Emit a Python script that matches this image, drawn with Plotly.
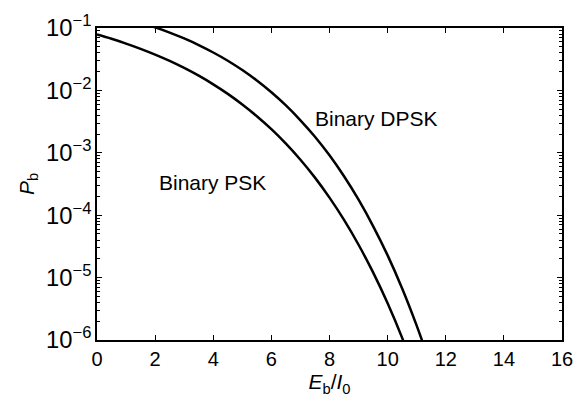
import plotly.graph_objects as go

# Bit error probability vs Eb/I0 (dB)
ebio_psk = [0, 0.5, 1, 1.5, 2, 2.5, 3, 3.5, 4, 4.5, 5, 5.5, 6, 6.5, 7, 7.5,
            8, 8.5, 9, 9.5, 10, 10.5, 11]
pb_psk = [0.0786, 0.0671, 0.0563, 0.0464, 0.0375, 0.0297, 0.0229, 0.0172,
          0.0125, 0.0088, 0.00595, 0.00386, 0.00239, 0.0014, 7.73e-4, 4.0e-4,
          1.91e-4, 8.4e-5, 3.36e-5, 1.21e-5, 3.87e-6, 1.08e-6, 2.6e-7]

ebio_dpsk = [1.5, 2, 2.5, 3, 3.5, 4, 4.5, 5, 5.5, 6, 6.5, 7, 7.5, 8, 8.5,
             9, 9.5, 10, 10.5, 11, 11.5]
pb_dpsk = [0.1217, 0.1025, 0.0845, 0.068, 0.0533, 0.0405, 0.0299, 0.0212,
           0.0144, 0.00933, 0.00574, 0.00332, 0.00181, 9.1e-4, 4.2e-4,
           1.77e-4, 6.7e-5, 2.27e-5, 6.7e-6, 1.7e-6, 3.7e-7]

x_ticks = [0, 2, 4, 6, 8, 10, 12, 14, 16]
y_exp_range = [-6, -1]   # decades shown on the log axis

FONT = "Liberation Sans, Arial, Helvetica, sans-serif"

fig = go.Figure()
fig.add_trace(go.Scatter(x=ebio_psk, y=pb_psk, mode="lines",
                         line=dict(color="black", width=2.5, shape="spline"),
                         name="Binary PSK", showlegend=False))
fig.add_trace(go.Scatter(x=ebio_dpsk, y=pb_dpsk, mode="lines",
                         line=dict(color="black", width=2.5, shape="spline"),
                         name="Binary DPSK", showlegend=False))

fig.add_annotation(x=3.97, y=-3.48, xref="x", yref="y", text="Binary PSK",
                   showarrow=False, font=dict(size=21, color="black", family=FONT))
fig.add_annotation(x=9.61, y=-2.45, xref="x", yref="y", text="Binary DPSK",
                   showarrow=False, font=dict(size=21, color="black", family=FONT))

fig.update_xaxes(range=[0, 16], tickvals=x_ticks, ticks="inside", ticklen=5,
                 tickwidth=1, tickcolor="black", showline=True, linecolor="black",
                 linewidth=1.5, mirror="ticks", showgrid=False, zeroline=False,
                 tickfont=dict(size=20, color="black", family=FONT),
                 title=dict(text="<i>E</i><sub>b</sub>/<i>I</i><sub>0</sub>",
                            font=dict(size=21, color="black", family=FONT),
                            standoff=6))
fig.update_yaxes(type="log", range=y_exp_range, tickmode="linear", tick0=0, dtick=1,
                 exponentformat="power", showexponent="all",
                 ticks="inside", ticklen=5, tickwidth=1, tickcolor="black",
                 minor=dict(dtick="D1", ticks="inside",
                            ticklen=3, tickwidth=1, tickcolor="black", showgrid=False),
                 showline=True, linecolor="black", linewidth=1.5, mirror="ticks",
                 showgrid=False, zeroline=False,
                 tickfont=dict(size=19, color="black", family=FONT),
                 title=dict(text="<i>P</i><sub>b</sub>",
                            font=dict(size=21, color="black", family=FONT),
                            standoff=6))

fig.update_layout(width=584, height=403, margin=dict(l=97, r=11, t=23, b=63),
                  paper_bgcolor="white", plot_bgcolor="white",
                  font=dict(family=FONT, color="black"))

fig.write_html("out.html")
